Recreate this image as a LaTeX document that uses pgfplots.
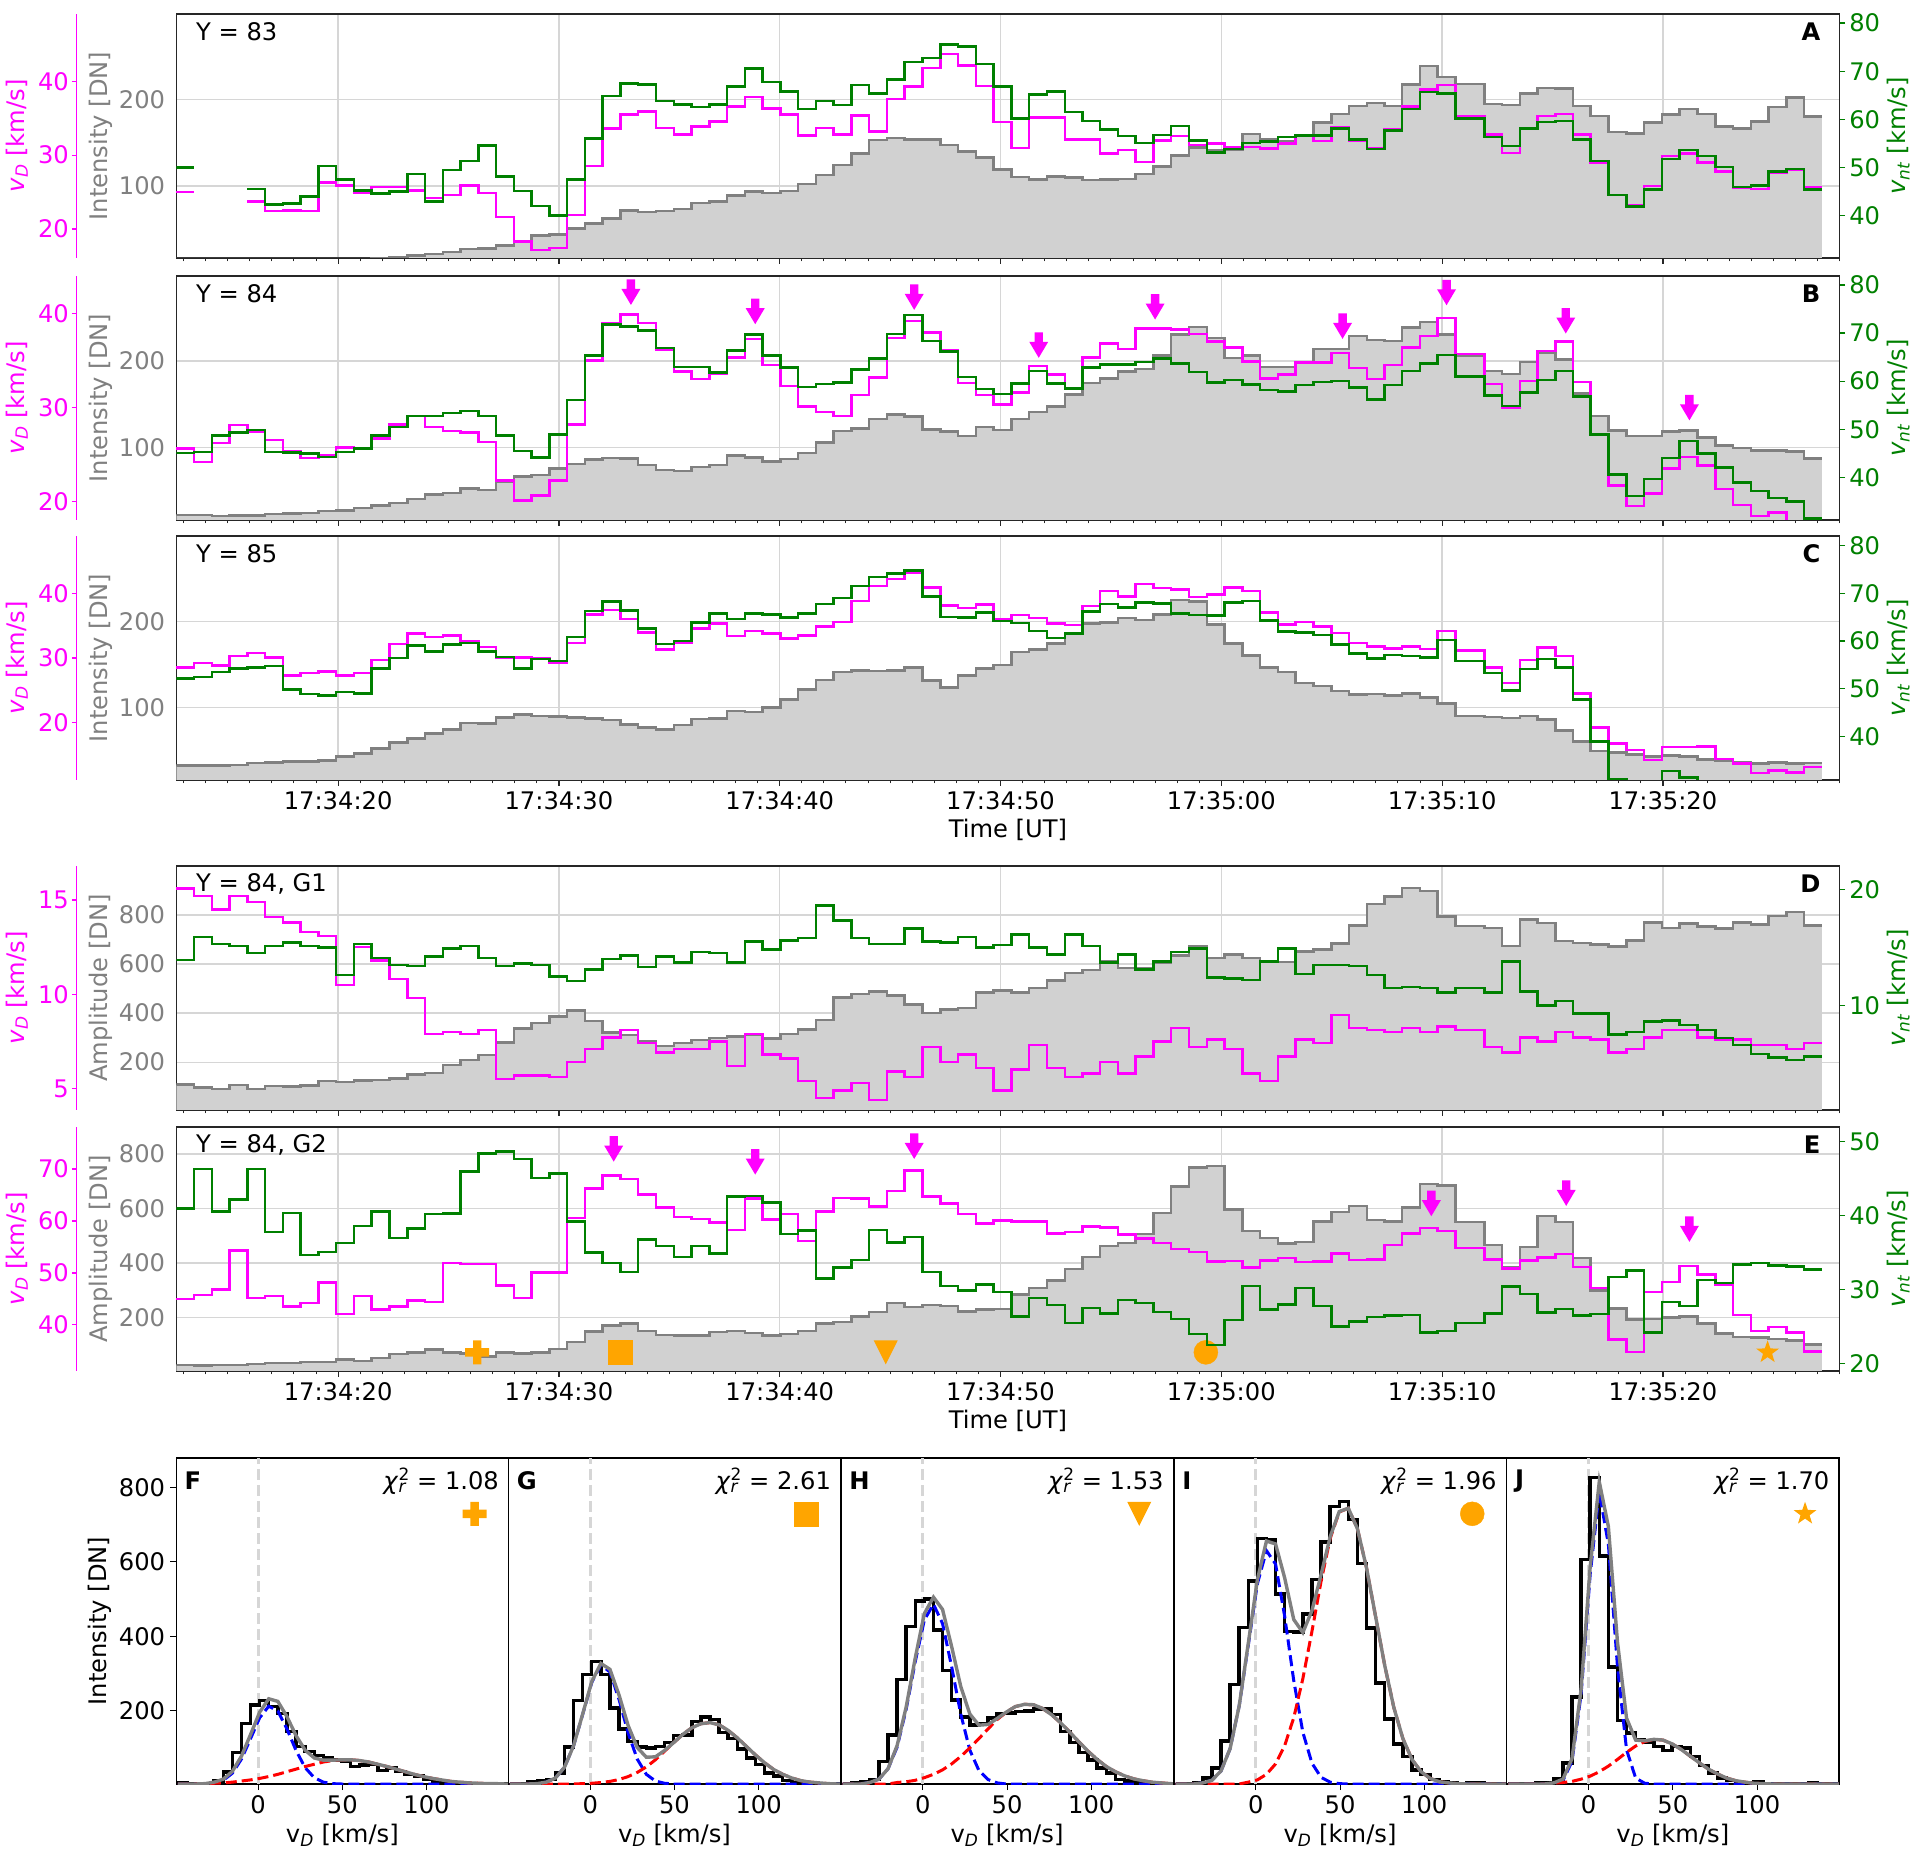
\documentclass[border=0pt]{standalone}
\usepackage{fontspec}
\setmainfont{DejaVu Sans}
\usepackage{pgfplots}
\usepackage{pgfplotstable}
\pgfplotsset{compat=1.18}
\newcommand{\fs}{\fontsize{24.2}{29}\selectfont}
\definecolor{mymag}{HTML}{FF00FF}
\definecolor{mygreen}{HTML}{008000}
\definecolor{mygray}{HTML}{808080}
\definecolor{myfill}{HTML}{D1D1D1}
\definecolor{mygrid}{HTML}{D6D6D6}
\definecolor{myorange}{HTML}{FFA500}

% plot marks, sizes in px
\pgfdeclareplotmark{darrow}{\pgfpathmoveto{\pgfqpoint{0pt}{0pt}}\pgfpathlineto{\pgfqpoint{-9.5pt}{16pt}}\pgfpathlineto{\pgfqpoint{-4.2pt}{16pt}}\pgfpathlineto{\pgfqpoint{-4.2pt}{25.5pt}}\pgfpathlineto{\pgfqpoint{4.2pt}{25.5pt}}\pgfpathlineto{\pgfqpoint{4.2pt}{16pt}}\pgfpathlineto{\pgfqpoint{9.5pt}{16pt}}\pgfpathclose\pgfusepathqfill}
\pgfdeclareplotmark{fatplus}{\pgfpathmoveto{\pgfqpoint{-4.2pt}{12pt}}\pgfpathlineto{\pgfqpoint{4.2pt}{12pt}}\pgfpathlineto{\pgfqpoint{4.2pt}{4.2pt}}\pgfpathlineto{\pgfqpoint{12pt}{4.2pt}}\pgfpathlineto{\pgfqpoint{12pt}{-4.2pt}}\pgfpathlineto{\pgfqpoint{4.2pt}{-4.2pt}}\pgfpathlineto{\pgfqpoint{4.2pt}{-12pt}}\pgfpathlineto{\pgfqpoint{-4.2pt}{-12pt}}\pgfpathlineto{\pgfqpoint{-4.2pt}{-4.2pt}}\pgfpathlineto{\pgfqpoint{-12pt}{-4.2pt}}\pgfpathlineto{\pgfqpoint{-12pt}{4.2pt}}\pgfpathlineto{\pgfqpoint{-4.2pt}{4.2pt}}\pgfpathclose\pgfusepathqfill}
\pgfdeclareplotmark{dtri}{\pgfpathmoveto{\pgfqpoint{-12pt}{12pt}}\pgfpathlineto{\pgfqpoint{12pt}{12pt}}\pgfpathlineto{\pgfqpoint{0pt}{-12pt}}\pgfpathclose\pgfusepathqfill}
\pgfdeclareplotmark{fstar}{\pgfpathmoveto{\pgfqpoint{0pt}{12pt}}\pgfpathlineto{\pgfqpoint{-2.82pt}{3.88pt}}\pgfpathlineto{\pgfqpoint{-11.41pt}{3.71pt}}\pgfpathlineto{\pgfqpoint{-4.56pt}{-1.48pt}}\pgfpathlineto{\pgfqpoint{-7.05pt}{-9.71pt}}\pgfpathlineto{\pgfqpoint{0pt}{-4.8pt}}\pgfpathlineto{\pgfqpoint{7.05pt}{-9.71pt}}\pgfpathlineto{\pgfqpoint{4.56pt}{-1.48pt}}\pgfpathlineto{\pgfqpoint{11.41pt}{3.71pt}}\pgfpathlineto{\pgfqpoint{2.82pt}{3.88pt}}\pgfpathclose\pgfusepathqfill}

\pgfplotsset{
  every axis/.append style={
    /pgf/number format/assume math mode=true,
    /pgf/number format/1000 sep={},
    tick label style={font=\fs},
    scale only axis, anchor=south west, height=244pt,
    tick align=outside, unbounded coords=jump,
  },
  timeaxis/.style={
    width=1663.3pt, xmin=12.67, xmax=88,
    xtick={20,30,40,50,60,70,80}, xticklabels={},
    minor xtick={13,14,...,88},
    major tick length=6pt, minor tick length=3.5pt,
    xtick pos=bottom, ytick pos=left,
    ytick style={draw=none},
    xtick style={line width=1.2pt,color=black!85},
    minor x tick style={line width=1pt,color=black!85},
    yticklabel style={color=mygray,inner sep=0pt},
    yticklabel shift=5pt,
    grid=major, grid style={line width=1.3pt,color=mygrid},
    axis line style={line width=1.6pt,color=black!85},
    every axis y label/.style={at={(axis description cs:-0.0453,0.5)},rotate=90,anchor=center,font=\fs,color=mygray},
    every axis x label/.style={at={(axis description cs:0.5,-0.205)},anchor=center,font=\fs},
  },
  withtime/.style={xticklabels={17:34:20,17:34:30,17:34:40,17:34:50,17:35:00,17:35:10,17:35:20},
    xticklabel style={inner sep=0pt}, xticklabel shift=5pt, xlabel={Time [UT]}},
  vdaxis/.style={
    width=1763.1pt, xmin=8.15, xmax=88,
    axis x line=none, axis y line*=left,
    y axis line style={line width=1.3pt,color=mymag},
    ytick style={line width=1.3pt,color=mymag},
    major tick length=4.5pt,
    yticklabel style={color=mymag,inner sep=0pt},
    yticklabel shift=3pt,
    ylabel={\textit{v}\textsubscript{\textit{D}} [km/s]},
    every axis y label/.style={at={(axis description cs:-0.0338,0.5)},rotate=90,anchor=center,font=\fs,color=mymag},
  },
  ntaxis/.style={
    width=1663.3pt, xmin=12.67, xmax=88,
    axis x line=none, axis y line*=right,
    y axis line style={line width=1.4pt,color=black!85},
    ytick style={line width=1.3pt,color=mygreen},
    major tick length=5.5pt,
    yticklabel style={color=mygreen,inner sep=0pt},
    yticklabel shift=4pt,
    ylabel={\textit{v}\textsubscript{\textit{nt}} [km/s]},
    every axis y label/.style={at={(axis description cs:1.0355,0.5)},rotate=90,anchor=center,font=\fs,color=mygreen},
  },
  fillI/.style={const plot,fill=myfill,draw=none,no markers,forget plot},
  lineI/.style={const plot,color=mygray,line width=2.5pt,no markers},
  vd/.style={const plot,color=mymag,line width=2.5pt,no markers},
  nt/.style={const plot,color=mygreen,line width=2.5pt,no markers},
  arrowmark/.style={only marks,mark=darrow,color=mymag,mark options={fill=mymag,draw=none}},
  orangemark/.style={only marks,mark=#1,color=myorange,mark size=12pt,mark options={fill=myorange,draw=none}},
  prof/.style={
    width=332.1pt, height=326pt, xmin=-48.6, xmax=148.6, ymin=3, ymax=879,
    xtick={0,50,100}, ytick={200,400,600,800},
    xtick pos=bottom, ytick pos=left, major tick length=6pt,
    tick style={line width=1.1pt,color=black},
    axis line style={line width=1.2pt,color=black},
    xticklabel style={inner sep=0pt}, xticklabel shift=5pt,
    yticklabel style={inner sep=0pt}, yticklabel shift=5pt,
    xlabel={v\textsubscript{\textit{D}} [km/s]},
    every axis x label/.style={at={(axis description cs:0.5,-0.157)},anchor=center,font=\fs},
    every axis y label/.style={at={(axis description cs:-0.2298,0.5)},rotate=90,anchor=center,font=\fs},
  },
  zeroline/.style={dash pattern=on 11pt off 5pt,color=mygrid,line width=3pt},
  hist/.style={const plot mark right,color=black,line width=3.4pt,no markers},
  fitb/.style={color=blue,line width=3pt,dash pattern=on 11pt off 5pt,no markers},
  fitr/.style={color=red,line width=3pt,dash pattern=on 11pt off 5pt,no markers},
  fits/.style={color=mygray,line width=3.4pt,no markers},
}
\tikzset{
  ptext/.style={anchor=west,font=\fs,inner sep=0pt},
  pletter/.style={anchor=east,font=\fs\bfseries,inner sep=0pt},
  pchi/.style={anchor=east,font=\fs,inner sep=0pt},
}
\newcommand{\chir}[1]{\textit{χ}\rlap{\textsuperscript{2}}\textsubscript{\textit{r}}\hspace{0.42em}= #1}

% panel A, Y = 83
\pgfplotstableread{
t I D N
12.67 10 25.0 50.0
13.47 10 25.0 50.0
13.48 10 nan nan
14.28 10 nan nan
15.08 10 nan nan
15.89 10 23.7 45.5
16.69 10 22.4 42.3
17.50 10 22.5 42.5
18.30 10 22.4 44.0
19.11 10 26.3 50.3
19.91 10 25.9 47.5
20.72 10 24.9 45.2
21.52 17.0 25.7 44.6
22.33 17.8 25.7 45.0
23.13 20.1 25.2 48.6
23.94 21.7 24.2 42.9
24.74 24.0 24.6 49.5
25.55 27.1 25.9 51.3
26.35 27.8 24.9 54.6
27.15 31.3 21.6 48.1
27.96 35.2 18.3 45.1
28.76 42.9 17.1 42.0
29.57 44.4 17.4 40.0
30.37 51.0 21.9 47.5
31.18 56.8 28.5 56.0
31.98 62.6 33.6 64.9
32.79 71.8 35.5 67.5
33.59 69.9 35.9 67.2
34.40 71.5 33.7 63.8
35.20 73.8 32.8 63.1
36.01 80.7 33.9 62.6
36.81 82.3 34.6 63.1
37.62 89.2 36.6 66.8
38.42 93.5 37.9 70.6
39.23 92.3 36.3 67.8
40.03 94.6 35.5 65.8
40.83 102.7 32.7 62.2
41.64 112.8 33.7 63.8
42.44 124.3 32.8 63.0
43.25 137.9 35.4 67.1
44.05 153.3 33.2 65.4
44.86 155.6 37.6 68.3
45.66 154.0 39.3 71.9
46.47 154.0 41.8 72.8
47.27 147.5 43.7 75.6
48.08 139.8 42.2 75.1
48.88 132.8 39.4 71.5
49.69 119.3 34.5 66.8
50.49 110.8 31.0 60.2
51.30 107.7 35.1 65.2
52.10 111.2 35.1 65.8
52.91 109.7 32.1 61.5
53.71 107.0 32.1 59.7
54.51 107.7 30.2 57.9
55.32 108.5 30.7 56.5
56.12 113.9 29.1 55.1
56.93 122.8 32.0 56.8
57.73 135.5 32.6 58.6
58.54 144.4 31.4 55.6
59.34 141.7 31.6 53.1
60.15 142.5 31.1 53.8
60.95 159.9 31.1 55.1
61.76 154.0 30.9 55.4
62.56 152.1 31.6 56.3
63.37 158.7 32.7 56.7
64.17 173.4 31.9 56.7
64.98 183.4 33.8 58.1
65.78 192.3 31.9 55.8
66.59 195.8 31.0 53.8
67.39 192.7 33.5 57.7
68.19 217.4 36.6 62.2
69.00 239.0 38.9 65.7
69.80 225.9 39.5 65.4
70.61 217.8 35.3 60.2
71.91 194.6 32.8 56.3
72.71 193.4 30.3 54.5
73.52 206.9 33.6 58.1
74.32 213.5 35.3 59.5
75.13 212.7 35.6 59.7
75.93 192.7 32.8 55.8
76.73 181.1 29.0 51.4
77.54 162.6 24.6 44.3
78.34 160.6 23.2 41.9
79.15 173.4 25.8 45.4
79.95 182.6 29.9 51.8
80.76 189.2 30.2 53.6
81.56 183.0 29.0 52.4
82.37 169.1 27.8 50.1
83.17 166.8 25.6 46.0
83.98 174.9 25.4 46.3
84.78 191.5 27.6 49.2
85.59 202.3 28.0 49.7
86.39 180.3 25.7 45.4
87.20 180.3 25.7 45.4
}\tabA

% panel B, Y = 84
\pgfplotstableread{
t I D N
12.67 21.3 25.6 45.0
13.47 21.3 24.2 45.3
14.28 20.1 26.2 48.7
15.08 20.9 28.1 49.3
15.89 20.9 27.4 49.8
16.69 22.4 26.5 45.3
17.50 23.2 25.3 45.1
18.30 23.6 24.6 44.9
19.11 25.9 24.9 44.2
19.91 26.7 25.7 45.3
20.72 29.4 25.6 46.0
21.52 32.5 26.7 48.7
22.33 35.2 28.2 50.5
23.13 39.8 29.1 52.7
23.94 44.8 27.9 52.7
24.74 47.1 27.5 53.4
25.55 51.8 27.3 53.8
26.35 50.6 26.3 52.7
27.15 59.5 22.2 48.7
27.96 66.1 20.1 45.5
28.76 68.0 20.6 44.1
29.57 75.3 22.2 48.9
30.37 80.7 28.2 56.1
31.18 85.7 35.0 65.3
31.98 87.3 39.0 71.8
32.79 86.9 39.9 71.4
33.59 79.2 39.0 70.5
34.40 73.4 36.1 66.9
35.20 72.2 33.8 63.0
36.01 77.2 33.0 63.0
36.81 79.6 33.6 61.8
37.62 90.4 35.3 66.4
38.42 88.1 37.3 69.7
39.23 83.4 34.5 65.3
40.03 86.1 32.3 62.8
40.83 93.1 30.1 58.8
41.64 105.4 29.5 59.4
42.44 118.9 29.1 59.7
43.25 122.0 31.3 62.4
44.05 132.8 33.2 64.7
44.86 138.2 37.4 69.8
45.66 135.5 39.2 73.8
46.47 120.5 38.0 68.4
47.27 118.2 36.1 66.2
48.08 113.2 32.6 60.9
48.88 123.2 31.3 58.4
49.69 120.1 30.3 57.3
50.49 132.8 31.6 59.5
51.30 140.6 34.4 62.1
52.10 147.1 33.5 59.5
52.91 161.0 32.0 58.5
53.71 174.5 35.3 62.8
54.51 179.9 36.8 63.5
55.32 188.0 36.2 63.5
56.12 190.7 38.4 64.0
56.93 206.6 38.4 64.7
57.73 230.9 38.3 63.7
58.54 239.8 37.8 61.9
59.34 226.6 37.0 59.7
60.15 203.5 36.4 60.2
60.95 206.2 34.9 59.3
61.76 193.4 33.1 58.2
62.56 193.4 33.5 57.9
63.37 198.8 34.8 59.2
64.17 213.9 34.8 59.8
64.98 214.3 35.8 60.0
65.78 229.3 34.2 58.7
66.59 224.7 33.0 56.2
67.39 223.2 34.5 59.2
68.19 239.0 36.4 62.1
69.00 245.5 37.6 63.7
69.80 230.9 39.5 65.5
70.61 206.6 35.7 61.0
71.91 188.4 32.5 57.0
72.71 184.9 30.0 54.8
73.52 199.2 32.8 57.6
74.32 209.7 36.0 60.2
75.13 201.9 37.0 62.1
75.93 162.6 32.7 56.8
76.73 136.3 27.1 48.9
77.54 119.3 21.7 40.6
78.34 112.8 19.5 36.1
79.15 112.8 20.8 39.6
79.95 118.2 23.5 44.0
80.76 119.3 24.7 47.5
81.56 111.2 23.8 44.9
82.37 102.0 21.3 42.0
83.17 99.3 19.6 38.9
83.98 96.2 18.4 37.1
84.78 96.2 18.8 35.7
85.59 95.0 17.6 34.9
86.39 86.9 17.6 31.4
87.20 86.9 17.6 31.4
}\tabB

% panel C, Y = 85
\pgfplotstableread{
t I D N
12.67 33.2 28.5 52.2
13.47 33.2 29.2 52.5
14.28 33.2 28.8 53.5
15.08 33.6 30.3 54.2
15.89 35.9 30.8 54.5
16.69 36.3 30.1 54.8
17.50 37.5 27.3 49.8
18.30 37.9 27.7 48.9
19.11 39.0 27.9 48.6
19.91 43.3 27.3 49.3
20.72 47.1 27.7 49.0
21.52 52.5 29.7 54.3
22.33 59.5 32.2 56.4
23.13 64.5 33.8 59.1
23.94 70.3 33.3 57.8
24.74 74.6 33.5 59.3
25.55 82.3 32.6 59.6
26.35 81.5 31.7 57.8
27.15 88.8 30.0 56.7
27.96 92.3 30.1 54.3
28.76 90.4 30.0 56.2
29.57 89.6 29.3 55.8
30.37 88.8 32.3 60.8
31.18 87.3 36.8 66.3
31.98 85.7 37.5 68.3
32.79 80.7 36.1 66.4
33.59 77.3 34.0 62.6
34.40 74.6 31.3 59.4
35.20 80.0 32.4 60.0
36.01 86.9 34.6 63.9
36.81 87.3 35.4 65.8
37.62 96.2 33.4 64.6
38.42 95.0 34.2 65.8
39.23 100.4 33.8 65.6
40.03 109.7 33.0 64.9
40.83 120.9 33.5 65.8
41.64 132.1 34.9 67.8
42.44 141.3 35.6 69.0
43.25 142.9 38.9 71.5
44.05 142.5 41.2 73.4
44.86 143.3 42.3 74.1
45.66 146.3 43.2 74.8
46.47 131.3 41.0 69.3
47.27 123.6 38.2 65.0
48.08 137.1 37.8 64.9
48.88 145.6 38.3 66.0
49.69 149.4 36.1 64.2
50.49 164.5 36.7 63.8
51.30 167.2 36.2 62.1
52.10 174.1 35.4 60.6
52.91 185.3 35.1 61.6
53.71 197.3 38.1 66.2
54.51 198.5 40.4 67.8
55.32 203.9 39.6 67.0
56.12 201.5 41.5 68.1
56.93 207.7 40.9 67.9
57.73 224.7 40.7 65.8
58.54 222.8 39.5 65.5
59.34 196.5 39.9 65.3
60.15 174.5 41.0 68.1
60.95 160.6 40.4 68.4
61.76 146.7 37.1 64.3
62.56 141.3 35.2 62.0
63.37 128.6 35.6 61.8
64.17 125.1 34.9 61.3
64.98 119.3 33.9 59.3
65.78 115.1 32.3 57.4
66.59 115.9 31.8 56.3
67.39 113.9 31.5 57.1
68.19 116.6 31.8 56.9
69.00 112.0 31.4 56.6
69.80 105.0 34.2 60.2
70.61 90.4 31.2 55.8
71.91 89.2 28.5 53.3
72.71 88.1 26.1 49.6
73.52 90.4 29.7 54.1
74.32 86.1 31.6 56.2
75.13 73.4 30.3 54.5
75.93 60.7 24.5 47.8
76.73 49.9 19.2 39.0
77.54 48.3 16.7 31.1
78.34 45.6 15.7 30.2
79.15 43.3 14.1 29.9
79.95 44.8 16.1 32.8
80.76 43.3 16.1 31.4
81.56 39.8 16.2 28.0
82.37 38.3 14.3 28.0
83.17 36.3 13.6 28.0
83.98 35.2 12.1 28.0
84.78 36.3 12.5 28.0
85.59 35.2 12.2 28.0
86.39 35.9 13.0 28.0
87.20 35.9 13.0 28.0
}\tabC

% panel D, Y = 84, G1
\pgfplotstableread{
t I D N
12.67 108 15.6 13.9
13.47 96 15.2 15.9
14.28 90.5 14.5 15.3
15.08 107 15.2 15.1
15.89 90.5 14.9 14.5
16.69 103 14.1 15.1
17.50 100 13.8 15.4
18.30 105 13.3 15.1
19.11 123 13.1 15.0
19.91 119 10.5 12.6
20.72 126 12.5 15.3
21.52 127 11.8 14.1
22.33 134 10.8 13.5
23.13 150 9.8 13.4
23.94 156 7.9 14.2
24.74 188 8.0 14.9
25.55 208 7.9 15.1
26.35 229 8.1 14.1
27.15 281 5.5 13.4
27.96 337 5.7 13.6
28.76 360 5.7 13.5
29.57 386 5.6 12.5
30.37 410 6.4 12.1
31.18 367 7.1 13.1
31.98 322 7.7 14.0
32.79 310 8.1 14.3
33.59 285 7.4 13.3
34.40 265 6.9 14.2
35.20 279 7.1 13.7
36.01 290 7.1 14.6
36.81 298 7.5 14.5
37.62 304 6.2 13.7
38.42 310 7.9 15.5
39.23 296 6.8 14.8
40.03 315 6.6 15.6
40.83 333 5.4 15.8
41.64 371 4.5 18.6
42.44 464 4.9 17.3
43.25 479 5.3 15.8
44.05 489 4.4 15.3
44.86 472 5.9 15.3
45.66 436 5.6 16.6
46.47 401 7.2 15.5
47.27 415 6.4 15.4
48.08 421 6.8 15.9
48.88 485 6.1 15.0
49.69 493 4.9 15.2
50.49 485 6.0 16.1
51.30 503 7.3 15.0
52.10 533 6.1 14.4
52.91 563 5.6 16.1
53.71 575 5.8 15.1
54.51 610 6.4 13.7
55.32 583 5.8 14.4
56.12 583 6.7 13.1
56.93 605 7.5 13.8
57.73 635 8.2 14.6
58.54 673 7.2 14.9
59.34 624 7.6 12.4
60.15 639 7.1 12.3
60.95 624 5.8 12.2
61.76 609 5.4 13.8
62.56 609 6.7 14.9
63.37 652 7.6 12.7
64.17 659 7.4 13.5
64.98 683 8.9 13.5
65.78 757 8.2 13.4
66.59 846 8.1 12.6
67.39 876 8.0 11.5
68.19 910 8.2 11.6
69.00 899 8.0 11.5
69.80 795 8.3 11.1
70.61 755 8.1 11.5
71.91 747 7.2 11.1
72.71 673 6.9 13.8
73.52 782 7.7 11.2
74.32 767 7.5 10.0
75.13 694 8.0 10.4
75.93 685 7.7 9.3
76.73 679 7.6 9.3
77.54 671 6.9 7.5
78.34 696 7.1 7.7
79.15 769 7.7 8.6
79.95 747 8.1 8.7
80.76 765 8.1 8.3
81.56 754 7.7 7.9
82.37 746 7.6 7.2
83.17 769 7.6 6.6
83.98 761 7.3 5.8
84.78 797 7.3 5.5
85.59 813 7.1 5.3
86.39 757 7.4 5.6
87.20 757 7.4 5.6
}\tabD

% panel E, Y = 84, G2
\pgfplotstableread{
t I D N
12.67 25 45.0 41.0
13.47 24 45.7 46.3
14.28 25 46.8 40.6
15.08 25 54.3 42.2
15.89 30 45.2 46.3
16.69 33 45.5 37.8
17.50 33 43.5 40.4
18.30 36 44.2 34.7
19.11 36 48.1 35.1
19.91 46 42.1 36.3
20.72 40 45.5 38.6
21.52 52 42.9 40.6
22.33 65 43.5 37.0
23.13 72 44.7 38.3
23.94 82 44.4 40.2
24.74 71 51.9 40.3
25.55 68 51.7 46.0
26.35 57 51.7 48.4
27.15 71 47.6 48.7
27.96 68 45.2 47.7
28.76 72 50.1 45.1
29.57 85 50.1 45.7
30.37 110 60.6 39.2
31.18 148 66.3 35.0
31.98 170 68.8 33.6
32.79 178 68.1 32.4
33.59 150 65.1 36.8
34.40 135 62.6 35.9
35.20 133 60.8 34.4
36.01 134 60.4 35.9
36.81 146 59.7 34.9
37.62 151 58.3 42.6
38.42 143 64.3 42.7
39.23 134 60.3 41.8
40.03 139 61.3 37.5
40.83 151 56.1 38.0
41.64 178 61.8 31.5
42.44 184 64.4 33.0
43.25 203 64.3 34.0
44.05 220 62.8 38.1
44.86 253 65.8 36.4
45.66 239 69.7 37.1
46.47 245 64.7 32.4
47.27 242 63.4 30.5
48.08 221 61.3 29.9
48.88 229 59.5 30.7
49.69 231 60.1 29.7
50.49 284 59.9 26.4
51.30 309 59.9 28.9
52.10 336 57.6 27.9
52.91 377 57.9 25.5
53.71 422 58.9 27.5
54.51 462 58.7 26.8
55.32 473 57.4 28.6
56.12 506 56.6 28.2
56.93 583 55.8 27.0
57.73 681 54.6 26.0
58.54 750 54.0 24.0
59.34 755 52.2 22.5
60.15 597 52.3 25.9
60.95 517 51.0 30.5
61.76 492 52.4 27.3
62.56 471 52.9 28.0
63.37 476 52.1 30.2
64.17 553 52.2 27.8
64.98 587 53.7 25.0
65.78 609 52.5 25.7
66.59 558 52.6 26.3
67.39 553 55.4 26.5
68.19 603 57.6 26.6
69.00 690 58.6 24.2
69.80 685 58.1 24.4
70.61 551 54.8 25.5
71.91 465 52.6 26.8
72.71 386 50.8 30.4
73.52 459 52.4 29.4
74.32 573 53.0 26.9
75.13 550 53.6 27.4
75.93 419 51.1 26.5
76.73 298 47.1 26.7
77.54 233 37.2 31.7
78.34 193 34.8 32.6
79.15 194 46.3 24.2
79.95 200 48.2 28.3
80.76 203 51.3 27.8
81.56 178 49.7 31.3
82.37 142 47.7 30.9
83.17 129 41.9 33.4
83.98 127 38.8 33.6
84.78 121 39.6 33.3
85.59 115 38.5 33.1
86.39 100 34.9 32.7
87.20 100 34.9 32.7
}\tabE

\pgfplotstableread{
t y
33.26 265.2
38.89 242.8
46.09 259.4
51.73 203.8
57.00 248.2
65.49 225.8
70.20 264.8
75.60 232.0
81.20 131.2
}\arrB
\pgfplotstableread{
t y
32.48 771.9
38.89 724.3
46.09 781.7
69.51 571.5
75.62 609.4
81.20 477.5
}\arrE

% line profiles: v, histogram, blue fit, red fit, total fit
\pgfplotstableread{
v h b r s
-47.7 5 3 3 3
-42.3 6 3 3 3
-36.9 4 3 3 3
-31.5 3 3 4 4
-26.1 5 6 5 8
-20.7 11 13 6 16
-15.3 35 32 8 37
-9.9 88 70 11 78
-4.5 165 125 14 136
0.9 215 181 18 196
6.3 228 212 23 232
11.7 211 199 29 225
17.1 192 151 36 184
22.5 144 93 43 133
27.9 103 47 50 94
33.3 91 20 56 73
38.7 79 8 62 67
44.1 73 4 66 67
49.5 68 3 68 68
54.9 64 3 68 68
60.3 50 3 66 66
65.7 54 3 62 62
71.1 55 3 56 56
76.5 40 3 50 50
81.9 46 3 43 43
87.3 37 3 36 36
92.7 28 3 29 29
98.1 24 3 23 23
103.5 16 3 18 18
108.9 10 3 14 14
114.3 8 3 10 10
119.7 6 3 8 8
125.1 5 3 6 6
130.5 4 3 5 5
135.9 3 3 4 4
141.3 3 3 4 4
146.7 3 3 3 3
152.1 3 3 3 3
}\profF
\pgfplotstableread{
v h b r s
-47.7 3 3 3 3
-42.3 3 3 3 3
-36.9 4 3 3 3
-31.5 8 4 3 4
-26.1 12 8 3 8
-20.7 15 19 3 19
-15.3 33 48 3 48
-9.9 102 106 3 106
-4.5 228 190 4 191
0.9 298 276 5 278
6.3 332 323 7 327
11.7 297 304 10 311
17.1 207 230 15 242
22.5 151 140 23 160
27.9 118 70 34 101
33.3 102 29 49 75
38.7 100 11 68 76
44.1 104 5 91 93
49.5 115 3 114 114
54.9 133 3 136 136
60.3 135 3 154 154
65.7 171 3 165 165
71.1 183 3 168 168
76.5 176 3 162 162
81.9 142 3 147 147
87.3 126 3 127 127
92.7 97 3 104 104
98.1 73 3 81 81
103.5 55 3 60 60
108.9 33 3 42 42
114.3 24 3 29 29
119.7 13 3 19 19
125.1 7 3 12 12
130.5 4 3 8 8
135.9 4 3 6 6
141.3 3 3 4 4
146.7 3 3 3 3
152.1 3 3 3 3
}\profG
\pgfplotstableread{
v h b r s
-47.7 3 3 3 3
-42.3 3 3 3 3
-36.9 6 3 3 3
-31.5 9 7 3 7
-26.1 15 16 3 16
-20.7 64 44 3 44
-15.3 135 102 7 106
-9.9 283 204 9 210
-4.5 426 332 13 342
0.9 495 444 20 461
6.3 500 486 29 505
11.7 417 434 41 472
17.1 308 318 57 372
22.5 229 191 77 265
27.9 183 94 100 191
33.3 162 39 125 161
38.7 165 15 151 163
44.1 180 6 176 179
49.5 192 3 196 196
54.9 194 3 211 211
60.3 198 3 217 217
65.7 199 3 216 216
71.1 205 3 206 206
76.5 205 3 189 189
81.9 190 3 167 167
87.3 144 3 142 142
92.7 115 3 116 116
98.1 88 3 91 91
103.5 68 3 69 69
108.9 46 3 50 50
114.3 33 3 36 36
119.7 15 3 25 25
125.1 11 3 17 17
130.5 8 3 12 12
135.9 5 3 8 8
141.3 4 3 6 6
146.7 3 3 4 4
152.1 3 3 3 3
}\profH
\pgfplotstableread{
v h b r s
-47.7 4 3 3 3
-42.3 4 3 3 3
-36.9 4 3 3 3
-31.5 7 6 3 6
-26.1 19 13 3 13
-20.7 46 38 3 38
-15.3 119 98 3 98
-9.9 271 213 3 213
-4.5 424 376 8 381
0.9 549 541 14 552
6.3 662 630 29 656
11.7 659 594 57 648
17.1 514 454 106 557
22.5 413 281 181 445
27.9 411 142 286 410
33.3 460 59 413 469
38.7 552 21 547 565
44.1 653 8 662 667
49.5 748 4 734 735
54.9 762 3 744 744
60.3 713 3 689 689
65.7 596 3 584 584
71.1 422 3 453 453
76.5 274 3 322 322
81.9 178 3 209 209
87.3 111 3 125 125
92.7 77 3 69 69
98.1 41 3 36 36
103.5 28 3 18 18
108.9 15 3 9 9
114.3 8 3 6 6
119.7 6 3 4 4
125.1 5 3 3 3
130.5 7 3 3 3
135.9 6 3 3 3
141.3 4 3 3 3
146.7 3 3 3 3
152.1 3 3 3 3
}\profI
\pgfplotstableread{
v h b r s
-47.7 4 3 3 3
-42.3 4 3 3 3
-36.9 3 3 3 3
-31.5 4 3 3 3
-26.1 7 3 3 3
-20.7 7 4 5 6
-15.3 16 12 7 16
-9.9 59 64 10 71
-4.5 237 244 16 257
0.9 607 566 24 587
6.3 826 788 36 815
11.7 616 647 51 695
17.1 317 319 69 385
22.5 174 95 88 180
27.9 140 19 105 121
33.3 122 5 117 119
38.7 115 3 123 123
44.1 104 3 121 121
49.5 93 3 111 111
54.9 104 3 96 96
60.3 100 3 78 78
65.7 77 3 60 60
71.1 52 3 43 43
76.5 33 3 30 30
81.9 19 3 19 19
87.3 13 3 12 12
92.7 7 3 8 8
98.1 7 3 5 5
103.5 10 3 4 4
108.9 5 3 3 3
114.3 4 3 3 3
119.7 4 3 3 3
125.1 4 3 3 3
130.5 5 3 3 3
135.9 6 3 3 3
141.3 4 3 3 3
146.7 3 3 3 3
152.1 3 3 3 3
}\profJ

\begin{document}
\begin{tikzpicture}
\useasboundingbox (0,0) rectangle (1916pt,1852pt);

% A
\begin{axis}[timeaxis,at={(176.3pt,1594pt)},ymin=17,ymax=298.8,ytick={100,200},ylabel={Intensity [DN]}]
  \addplot[fillI] table[x=t,y=I]{\tabA} \closedcycle;
  \addplot[lineI] table[x=t,y=I]{\tabA};
\end{axis}
\begin{axis}[vdaxis,at={(76.5pt,1594pt)},ymin=16.05,ymax=49.16,ytick={20,30,40}]
  \addplot[vd] table[x=t,y=D]{\tabA};
\end{axis}
\begin{axis}[ntaxis,at={(176.3pt,1594pt)},ymin=31.2,ymax=81.9,ytick={40,50,60,70,80}]
  \addplot[nt] table[x=t,y=N]{\tabA};
  \node[ptext] at (rel axis cs:0.0118,0.926) {Y = 83};
  \node[pletter] at (rel axis cs:0.9886,0.926) {A};
\end{axis}

% B
\begin{axis}[timeaxis,at={(176.3pt,1332pt)},ymin=15.5,ymax=298.8,ytick={100,200},ylabel={Intensity [DN]}]
  \addplot[fillI] table[x=t,y=I]{\tabB} \closedcycle;
  \addplot[lineI] table[x=t,y=I]{\tabB};
  \addplot[arrowmark] table[x=t,y=y]{\arrB};
\end{axis}
\begin{axis}[vdaxis,at={(76.5pt,1332pt)},ymin=18,ymax=44,ytick={20,30,40}]
  \addplot[vd] table[x=t,y=D]{\tabB};
\end{axis}
\begin{axis}[ntaxis,at={(176.3pt,1332pt)},ymin=31.1,ymax=81.9,ytick={40,50,60,70,80}]
  \addplot[nt] table[x=t,y=N]{\tabB};
  \node[ptext] at (rel axis cs:0.0118,0.926) {Y = 84};
  \node[pletter] at (rel axis cs:0.9886,0.926) {B};
\end{axis}

% C
\begin{axis}[timeaxis,withtime,at={(176.3pt,1072pt)},ymin=16.3,ymax=298.8,ytick={100,200},ylabel={Intensity [DN]}]
  \addplot[fillI] table[x=t,y=I]{\tabC} \closedcycle;
  \addplot[lineI] table[x=t,y=I]{\tabC};
\end{axis}
\begin{axis}[vdaxis,at={(76.5pt,1072pt)},ymin=11,ymax=49,ytick={20,30,40}]
  \addplot[vd] table[x=t,y=D]{\tabC};
\end{axis}
\begin{axis}[ntaxis,at={(176.3pt,1072pt)},ymin=30.9,ymax=82,ytick={40,50,60,70,80}]
  \addplot[nt] table[x=t,y=N]{\tabC};
  \node[ptext] at (rel axis cs:0.0118,0.926) {Y = 85};
  \node[pletter] at (rel axis cs:0.9886,0.926) {C};
\end{axis}

% D
\begin{axis}[timeaxis,at={(176.3pt,742pt)},ymin=5,ymax=1000,ytick={200,400,600,800},ylabel={Amplitude [DN]}]
  \addplot[fillI] table[x=t,y=I]{\tabD} \closedcycle;
  \addplot[lineI] table[x=t,y=I]{\tabD};
\end{axis}
\begin{axis}[vdaxis,at={(76.5pt,742pt)},ymin=3.86,ymax=16.8,ytick={5,10,15}]
  \addplot[vd] table[x=t,y=D]{\tabD};
\end{axis}
\begin{axis}[ntaxis,at={(176.3pt,742pt)},ymin=1,ymax=22,ytick={10,20}]
  \addplot[nt] table[x=t,y=N]{\tabD};
  \node[ptext] at (rel axis cs:0.0118,0.926) {Y = 84, G1};
  \node[pletter] at (rel axis cs:0.9886,0.926) {D};
\end{axis}

% E
\begin{axis}[timeaxis,withtime,at={(176.3pt,481pt)},ymin=3.5,ymax=899,ytick={200,400,600,800},ylabel={Amplitude [DN]}]
  \addplot[fillI] table[x=t,y=I]{\tabE} \closedcycle;
  \addplot[lineI] table[x=t,y=I]{\tabE};
  \addplot[arrowmark] table[x=t,y=y]{\arrE};
  \addplot[orangemark=fatplus] coordinates {(26.3,72)};
  \addplot[orangemark=square*] coordinates {(32.76,72)};
  \addplot[orangemark=dtri] coordinates {(44.8,72)};
  \addplot[orangemark=*] coordinates {(59.3,72)};
  \addplot[orangemark=fstar] coordinates {(84.74,72)};
\end{axis}
\begin{axis}[vdaxis,at={(76.5pt,481pt)},ymin=31.1,ymax=78.1,ytick={40,50,60,70}]
  \addplot[vd] table[x=t,y=D]{\tabE};
\end{axis}
\begin{axis}[ntaxis,at={(176.3pt,481pt)},ymin=19,ymax=52,ytick={20,30,40,50}]
  \addplot[nt] table[x=t,y=N]{\tabE};
  \node[ptext] at (rel axis cs:0.0118,0.926) {Y = 84, G2};
  \node[pletter] at (rel axis cs:0.9886,0.926) {E};
\end{axis}

% F
\begin{axis}[prof,at={(176.3pt,68pt)},ylabel={Intensity [DN]}]
  \addplot[zeroline] coordinates {(0,3)(0,879)};
  \addplot[hist] table[x=v,y=h]{\profF};
  \addplot[fitb] table[x=v,y=b]{\profF};
  \addplot[fitr] table[x=v,y=r]{\profF};
  \addplot[fits] table[x=v,y=s]{\profF};
  \addplot[orangemark=fatplus] coordinates {(128.5,729)};
  \node[pletter,anchor=west] at (rel axis cs:0.0247,0.9300) {F};
  \node[pchi] at (rel axis cs:0.972,0.9300) {\chir{1.08}};
\end{axis}
% G
\begin{axis}[prof,at={(508.4pt,68pt)},yticklabels={},ytick style={draw=none}]
  \addplot[zeroline] coordinates {(0,3)(0,879)};
  \addplot[hist] table[x=v,y=h]{\profG};
  \addplot[fitb] table[x=v,y=b]{\profG};
  \addplot[fitr] table[x=v,y=r]{\profG};
  \addplot[fits] table[x=v,y=s]{\profG};
  \addplot[orangemark=square*] coordinates {(128.5,729)};
  \node[pletter,anchor=west] at (rel axis cs:0.0247,0.9300) {G};
  \node[pchi] at (rel axis cs:0.972,0.9300) {\chir{2.61}};
\end{axis}
% H
\begin{axis}[prof,at={(841pt,68pt)},yticklabels={},ytick style={draw=none}]
  \addplot[zeroline] coordinates {(0,3)(0,879)};
  \addplot[hist] table[x=v,y=h]{\profH};
  \addplot[fitb] table[x=v,y=b]{\profH};
  \addplot[fitr] table[x=v,y=r]{\profH};
  \addplot[fits] table[x=v,y=s]{\profH};
  \addplot[orangemark=dtri] coordinates {(128.5,729)};
  \node[pletter,anchor=west] at (rel axis cs:0.0247,0.9300) {H};
  \node[pchi] at (rel axis cs:0.972,0.9300) {\chir{1.53}};
\end{axis}
% I
\begin{axis}[prof,at={(1174pt,68pt)},yticklabels={},ytick style={draw=none}]
  \addplot[zeroline] coordinates {(0,3)(0,879)};
  \addplot[hist] table[x=v,y=h]{\profI};
  \addplot[fitb] table[x=v,y=b]{\profI};
  \addplot[fitr] table[x=v,y=r]{\profI};
  \addplot[fits] table[x=v,y=s]{\profI};
  \addplot[orangemark=*] coordinates {(128.5,729)};
  \node[pletter,anchor=west] at (rel axis cs:0.0247,0.9300) {I};
  \node[pchi] at (rel axis cs:0.972,0.9300) {\chir{1.96}};
\end{axis}
% J
\begin{axis}[prof,at={(1506.8pt,68pt)},yticklabels={},ytick style={draw=none}]
  \addplot[zeroline] coordinates {(0,3)(0,879)};
  \addplot[hist] table[x=v,y=h]{\profJ};
  \addplot[fitb] table[x=v,y=b]{\profJ};
  \addplot[fitr] table[x=v,y=r]{\profJ};
  \addplot[fits] table[x=v,y=s]{\profJ};
  \addplot[orangemark=fstar] coordinates {(128.5,729)};
  \node[pletter,anchor=west] at (rel axis cs:0.0247,0.9300) {J};
  \node[pchi] at (rel axis cs:0.972,0.9300) {\chir{1.70}};
\end{axis}
\end{tikzpicture}
\end{document}
